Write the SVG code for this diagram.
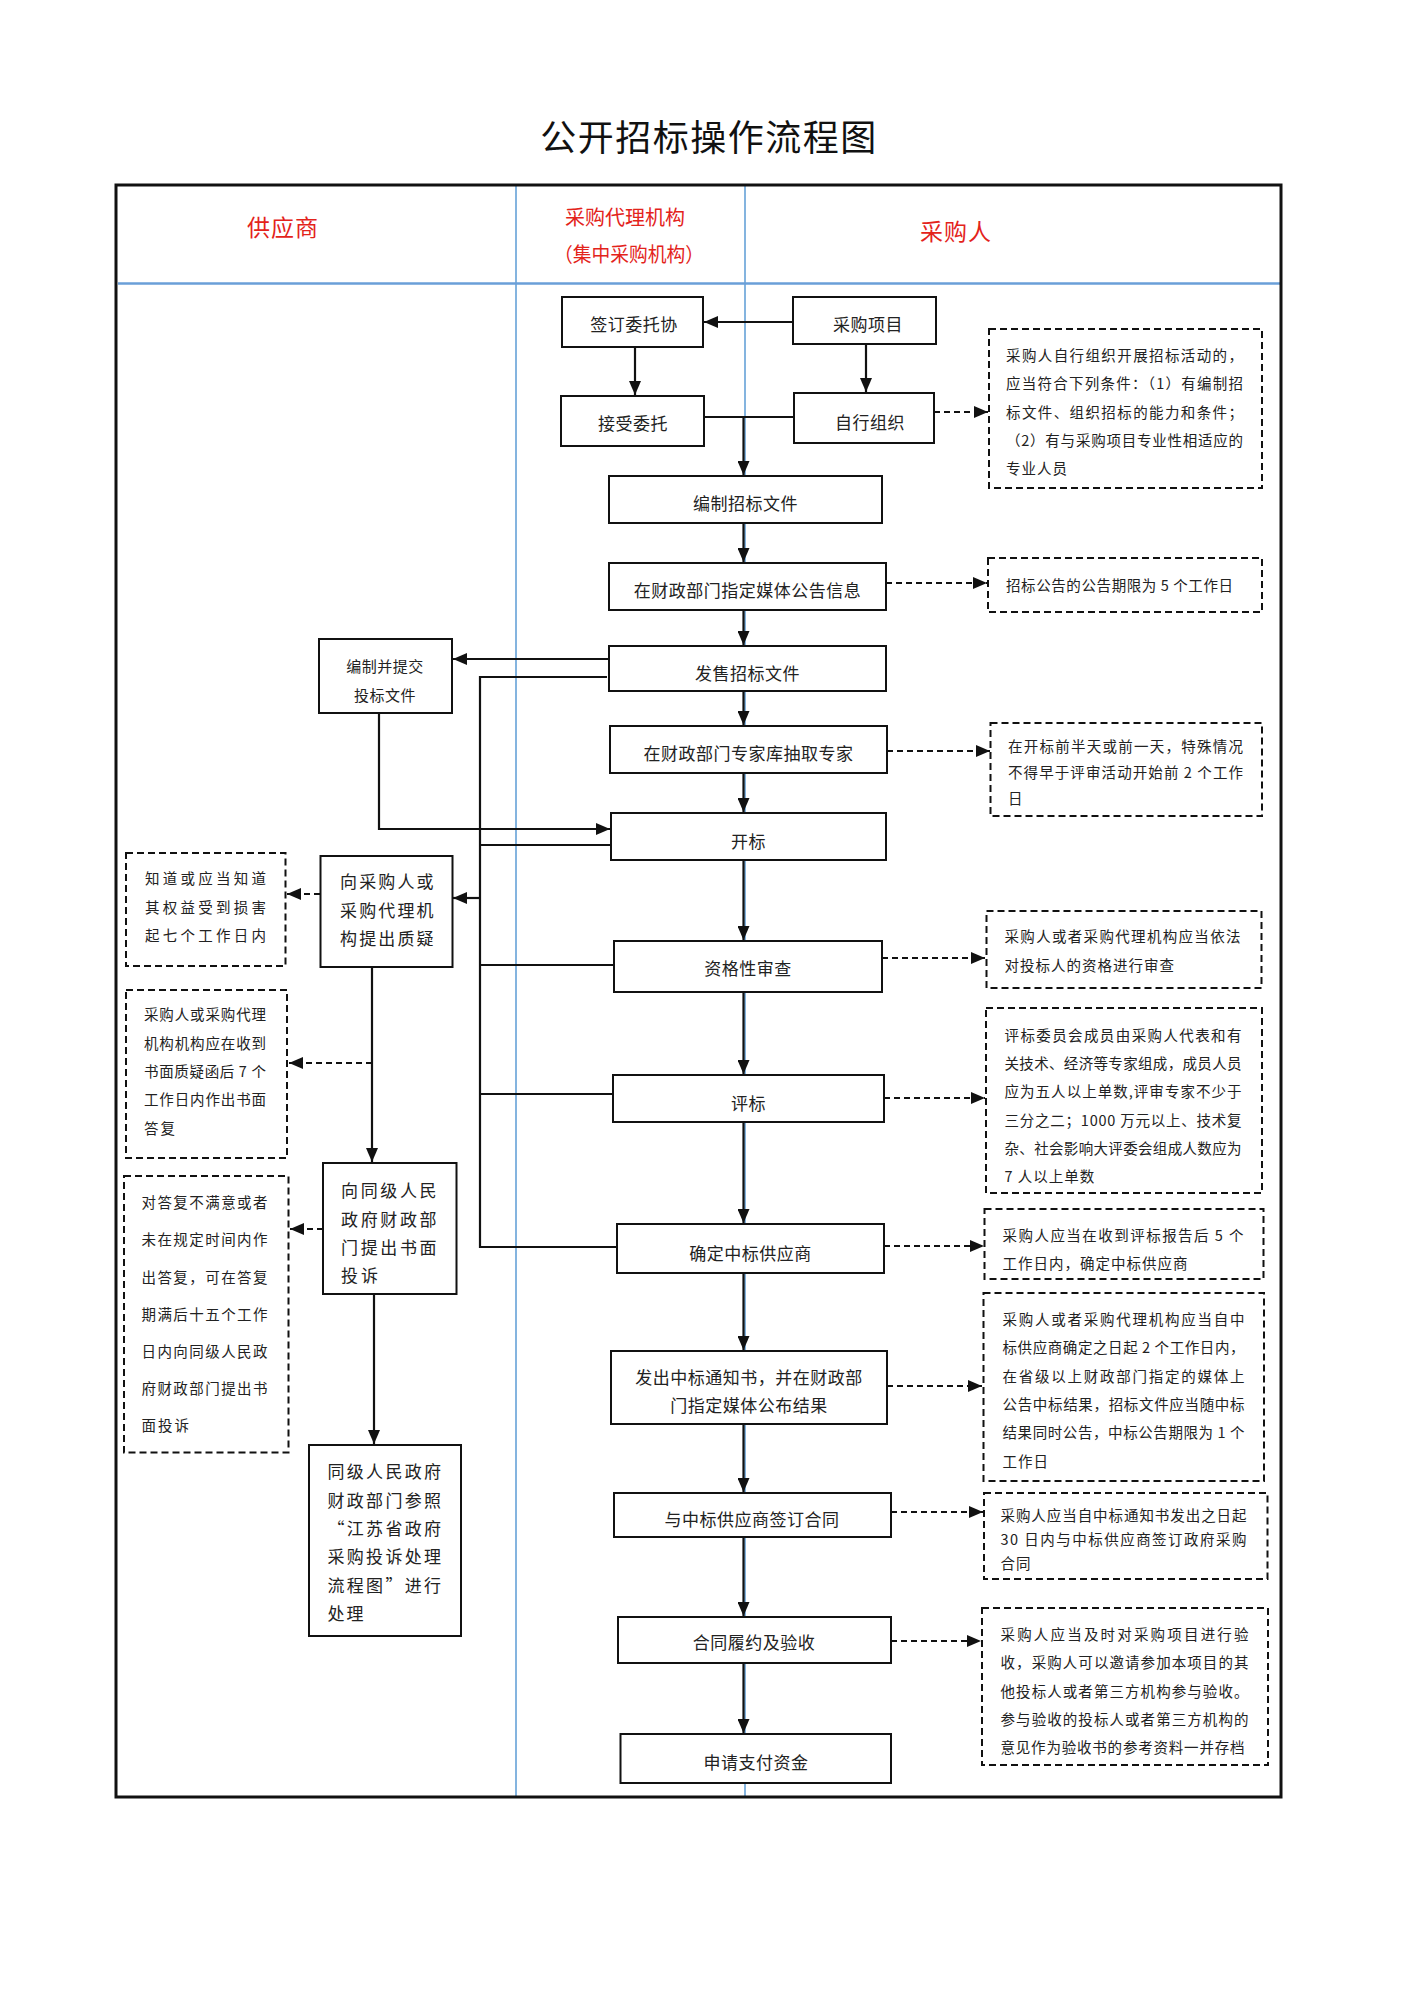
<svg xmlns="http://www.w3.org/2000/svg" width="1414" height="2000" viewBox="0 0 1414 2000">
<style>
.n{fill:#fff;stroke:#111;stroke-width:2}
.d{fill:#fff;stroke:#111;stroke-width:2;stroke-dasharray:7 4}
.t{font-family:"Noto Sans CJK SC","Noto Sans CJK JP",sans-serif;font-size:17px;fill:#222;letter-spacing:0.5px}
.m{text-anchor:middle}
.s{font-size:14.5px;letter-spacing:1px}
.h{font-family:"Noto Sans CJK SC",sans-serif;fill:#e3231b;text-anchor:middle}
.c{fill:none;stroke:#111;stroke-width:2.2}
.cd{fill:none;stroke:#111;stroke-width:2;stroke-dasharray:6 4}
.lane{stroke:#5b9bd5;stroke-width:1.5;fill:none}
</style>
<defs>
<marker id="ah" markerUnits="userSpaceOnUse" markerWidth="14" markerHeight="12" refX="14" refY="6" orient="auto">
<path d="M0,0 L14,6 L0,12 z" fill="#111"/>
</marker>
</defs>
<rect width="1414" height="2000" fill="#fff"/>

<g id="frame">
<text x="709" y="151" class="t m" style="font-size:36px;letter-spacing:1.5px;fill:#111">公开招标操作流程图</text>
<line class="lane" x1="516" y1="185" x2="516" y2="1797"/>
<line class="lane" x1="745" y1="185" x2="745" y2="1797"/>
<line x1="118" y1="283.5" x2="1280" y2="283.5" stroke="#6a9fd8" stroke-width="2.6"/>
<rect x="116" y="185" width="1165" height="1612" fill="none" stroke="#111" stroke-width="3"/>
<text x="283" y="236" class="h" style="font-size:23px;letter-spacing:1px">供应商</text>
<text x="625" y="225" class="h" style="font-size:20px">采购代理机构</text>
<text x="629" y="262" class="h" style="font-size:20px" textLength="150" lengthAdjust="spacingAndGlyphs">（集中采购机构）</text>
<text x="956" y="240" class="h" style="font-size:23px;letter-spacing:1px">采购人</text>
</g>

<g id="connectors">
<line class="c" x1="793" y1="322" x2="704" y2="322" marker-end="url(#ah)"/>
<line class="c" x1="635" y1="347" x2="635" y2="395" marker-end="url(#ah)"/>
<line class="c" x1="866" y1="344" x2="866" y2="392" marker-end="url(#ah)"/>
<line class="c" x1="704" y1="417" x2="794" y2="417"/>
<line class="c" x1="743.5" y1="417" x2="743.5" y2="475" marker-end="url(#ah)"/>
<line class="c" x1="743.5" y1="523" x2="743.5" y2="562" marker-end="url(#ah)"/>
<line class="c" x1="743.5" y1="610" x2="743.5" y2="645" marker-end="url(#ah)"/>
<line class="c" x1="743.5" y1="691" x2="743.5" y2="725" marker-end="url(#ah)"/>
<line class="c" x1="743.5" y1="773" x2="743.5" y2="812" marker-end="url(#ah)"/>
<line class="c" x1="743.5" y1="860" x2="743.5" y2="940" marker-end="url(#ah)"/>
<line class="c" x1="743.5" y1="992" x2="743.5" y2="1074" marker-end="url(#ah)"/>
<line class="c" x1="743.5" y1="1122" x2="743.5" y2="1223" marker-end="url(#ah)"/>
<line class="c" x1="743.5" y1="1273" x2="743.5" y2="1350" marker-end="url(#ah)"/>
<line class="c" x1="743.5" y1="1424" x2="743.5" y2="1492" marker-end="url(#ah)"/>
<line class="c" x1="743.5" y1="1537" x2="743.5" y2="1616" marker-end="url(#ah)"/>
<line class="c" x1="743.5" y1="1663" x2="743.5" y2="1733" marker-end="url(#ah)"/>
<line class="c" x1="609" y1="659" x2="453" y2="659" marker-end="url(#ah)"/>
<path class="c" d="M607,677 H480 V1247 H616"/>
<path class="c" d="M480,845 H611 M480,965 H614 M480,1094 H613"/>
<line class="c" x1="480" y1="898" x2="453" y2="898" marker-end="url(#ah)"/>
<path class="c" d="M379,713 V829 H610" marker-end="url(#ah)"/>
<line class="c" x1="372" y1="967" x2="372" y2="1162" marker-end="url(#ah)"/>
<line class="c" x1="374" y1="1294" x2="374" y2="1444" marker-end="url(#ah)"/>
<line class="cd" x1="934" y1="412" x2="988" y2="412" marker-end="url(#ah)"/>
<line class="cd" x1="886" y1="583" x2="987" y2="583" marker-end="url(#ah)"/>
<line class="cd" x1="887" y1="751" x2="990" y2="751" marker-end="url(#ah)"/>
<line class="cd" x1="882" y1="958" x2="985" y2="958" marker-end="url(#ah)"/>
<line class="cd" x1="884" y1="1098" x2="985" y2="1098" marker-end="url(#ah)"/>
<line class="cd" x1="884" y1="1246" x2="984" y2="1246" marker-end="url(#ah)"/>
<line class="cd" x1="887" y1="1386" x2="982" y2="1386" marker-end="url(#ah)"/>
<line class="cd" x1="891" y1="1512" x2="983" y2="1512" marker-end="url(#ah)"/>
<line class="cd" x1="891" y1="1641" x2="981" y2="1641" marker-end="url(#ah)"/>
<line class="cd" x1="320" y1="894" x2="287" y2="894" marker-end="url(#ah)"/>
<line class="cd" x1="372" y1="1063" x2="289" y2="1063" marker-end="url(#ah)"/>
<line class="cd" x1="323" y1="1229" x2="290" y2="1229" marker-end="url(#ah)"/>
</g>

<g id="n-qianding"><rect class="n" x="562" y="297" width="141" height="50"/><text class="t m" x="634" y="331">签订委托协</text></g>
<g id="n-jieshou"><rect class="n" x="561" y="396" width="143" height="50"/><text class="t m" x="633" y="429.5">接受委托</text></g>
<g id="n-xiangmu"><rect class="n" x="793" y="297" width="143" height="47"/><text class="t m" x="868" y="331">采购项目</text></g>
<g id="n-zixing"><rect class="n" x="794" y="393" width="140" height="50"/><text class="t m" x="870" y="428.5">自行组织</text></g>
<g id="n-bianzhi"><rect class="n" x="609" y="476" width="273" height="47"/><text class="t m" x="745.5" y="509.5">编制招标文件</text></g>
<g id="n-gonggao"><rect class="n" x="609" y="563" width="277" height="47"/><text class="t m" x="747.5" y="596.5">在财政部门指定媒体公告信息</text></g>
<g id="n-fashou"><rect class="n" x="609" y="646" width="277" height="45"/><text class="t m" x="747.5" y="679.5">发售招标文件</text></g>
<g id="n-chouqu"><rect class="n" x="610" y="726" width="277" height="47"/><text class="t m" x="748.5" y="759.5">在财政部门专家库抽取专家</text></g>
<g id="n-kaibiao"><rect class="n" x="611" y="813" width="275" height="47"/><text class="t m" x="748.5" y="848">开标</text></g>
<g id="n-zige"><rect class="n" x="614" y="941" width="268" height="51"/><text class="t m" x="748" y="974.5">资格性审查</text></g>
<g id="n-pingbiao"><rect class="n" x="613" y="1075" width="271" height="47"/><text class="t m" x="748.5" y="1109.5">评标</text></g>
<g id="n-queding"><rect class="n" x="617" y="1224" width="267" height="49"/><text class="t m" x="750.5" y="1259.5">确定中标供应商</text></g>
<g id="n-fachu"><rect class="n" x="611" y="1351" width="276" height="73"/><text class="t m" x="749" y="1384">发出中标通知书，并在财政部</text><text class="t m" x="749" y="1412">门指定媒体公布结果</text></g>
<g id="n-hetong"><rect class="n" x="614" y="1493" width="277" height="44"/><text class="t m" x="752" y="1526">与中标供应商签订合同</text></g>
<g id="n-lvyue"><rect class="n" x="618" y="1617" width="273" height="46"/><text class="t m" x="754" y="1649">合同履约及验收</text></g>
<g id="n-zhifu"><rect class="n" x="620.5" y="1734" width="270.5" height="49"/><text class="t m" x="756" y="1769">申请支付资金</text></g>

<g id="n-toubiao"><rect class="n" x="319" y="639" width="133" height="74"/><text class="t m" x="385" y="672" style="font-size:15px;letter-spacing:0.5px">编制并提交</text><text class="t m" x="385" y="700.5" style="font-size:15px;letter-spacing:0.5px">投标文件</text></g>
<g id="n-zhiyi"><rect class="n" x="320.5" y="856" width="132" height="111"/>
<text class="t" x="340" y="888" textLength="94" lengthAdjust="spacing">向采购人或</text>
<text class="t" x="340" y="917" textLength="94" lengthAdjust="spacing">采购代理机</text>
<text class="t" x="340" y="945" textLength="94" lengthAdjust="spacing">构提出质疑</text></g>
<g id="n-tousu"><rect class="n" x="323" y="1163" width="133.5" height="131"/>
<text class="t" x="341" y="1196.5" textLength="96" lengthAdjust="spacing">向同级人民</text>
<text class="t" x="341" y="1225.5" textLength="96" lengthAdjust="spacing">政府财政部</text>
<text class="t" x="341" y="1253.5" textLength="96" lengthAdjust="spacing">门提出书面</text>
<text class="t" x="341" y="1281.5" style="letter-spacing:3px">投诉</text></g>
<g id="n-chuli"><rect class="n" x="309" y="1445" width="152" height="191"/>
<text class="t" x="327.5" y="1478" textLength="114" lengthAdjust="spacing">同级人民政府</text>
<text class="t" x="327.5" y="1506.5" textLength="114" lengthAdjust="spacing">财政部门参照</text>
<text class="t" x="327.5" y="1535" textLength="114" lengthAdjust="spacing">“江苏省政府</text>
<text class="t" x="327.5" y="1563" textLength="114" lengthAdjust="spacing">采购投诉处理</text>
<text class="t" x="327.5" y="1591.5" textLength="114" lengthAdjust="spacing">流程图”进行</text>
<text class="t" x="327.5" y="1620" style="letter-spacing:2px">处理</text></g>

<g id="note-l1"><rect class="d" x="126" y="853" width="159.5" height="113"/>
<text class="t s" x="145" y="884" textLength="122" lengthAdjust="spacing">知道或应当知道</text>
<text class="t s" x="145" y="912.5" textLength="122" lengthAdjust="spacing">其权益受到损害</text>
<text class="t s" x="145" y="941" textLength="122" lengthAdjust="spacing">起七个工作日内</text></g>
<g id="note-l2"><rect class="d" x="126" y="990" width="161" height="168"/>
<text class="t s" x="144" y="1020" textLength="123" lengthAdjust="spacing">采购人或采购代理</text>
<text class="t s" x="144" y="1048.5" textLength="123" lengthAdjust="spacing">机构机构应在收到</text>
<text class="t s" x="144" y="1077" textLength="123" lengthAdjust="spacing">书面质疑函后 7 个</text>
<text class="t s" x="144" y="1105" textLength="123" lengthAdjust="spacing">工作日内作出书面</text>
<text class="t s" x="144" y="1133.5" style="letter-spacing:2px">答复</text></g>
<g id="note-l3"><rect class="d" x="124" y="1176" width="164.5" height="276.5"/>
<text class="t s" x="141.5" y="1208" textLength="127" lengthAdjust="spacing">对答复不满意或者</text>
<text class="t s" x="141.5" y="1245" textLength="127" lengthAdjust="spacing">未在规定时间内作</text>
<text class="t s" x="141.5" y="1282.5" textLength="127" lengthAdjust="spacing">出答复，可在答复</text>
<text class="t s" x="141.5" y="1319.5" textLength="127" lengthAdjust="spacing">期满后十五个工作</text>
<text class="t s" x="141.5" y="1356.5" textLength="127" lengthAdjust="spacing">日内向同级人民政</text>
<text class="t s" x="141.5" y="1393.5" textLength="127" lengthAdjust="spacing">府财政部门提出书</text>
<text class="t s" x="141.5" y="1431" style="letter-spacing:2px">面投诉</text></g>

<g id="note-r1"><rect class="d" x="989" y="329" width="273" height="159"/>
<text class="t s" x="1006" y="360.5" textLength="238" lengthAdjust="spacing">采购人自行组织开展招标活动的，</text>
<text class="t s" x="1006" y="388.5" textLength="238" lengthAdjust="spacing">应当符合下列条件：（1）有编制招</text>
<text class="t s" x="1006" y="417.5" textLength="238" lengthAdjust="spacing">标文件、组织招标的能力和条件；</text>
<text class="t s" x="1006" y="445.5" textLength="238" lengthAdjust="spacing">（2）有与采购项目专业性相适应的</text>
<text class="t s" x="1006" y="473.5">专业人员</text></g>
<g id="note-r2"><rect class="d" x="988" y="558" width="274" height="54"/>
<text class="t s" x="1006" y="590.5" textLength="228" lengthAdjust="spacing">招标公告的公告期限为 5 个工作日</text></g>
<g id="note-r3"><rect class="d" x="990.5" y="723" width="271.5" height="93"/>
<text class="t s" x="1008" y="752" textLength="236" lengthAdjust="spacing">在开标前半天或前一天，特殊情况</text>
<text class="t s" x="1008" y="778" textLength="236" lengthAdjust="spacing">不得早于评审活动开始前 2 个工作</text>
<text class="t s" x="1008" y="804">日</text></g>
<g id="note-r4"><rect class="d" x="986.5" y="911" width="275" height="77"/>
<text class="t s" x="1004.5" y="942" textLength="237" lengthAdjust="spacing">采购人或者采购代理机构应当依法</text>
<text class="t s" x="1004.5" y="970.5">对投标人的资格进行审查</text></g>
<g id="note-r5"><rect class="d" x="986" y="1008" width="276" height="185"/>
<text class="t s" x="1004.5" y="1040.5" textLength="238" lengthAdjust="spacing">评标委员会成员由采购人代表和有</text>
<text class="t s" x="1004.5" y="1069" textLength="238" lengthAdjust="spacing">关技术、经济等专家组成，成员人员</text>
<text class="t s" x="1004.5" y="1097" textLength="238" lengthAdjust="spacing">应为五人以上单数,评审专家不少于</text>
<text class="t s" x="1004.5" y="1125.5" textLength="238" lengthAdjust="spacing">三分之二；1000 万元以上、技术复</text>
<text class="t s" x="1004.5" y="1154" textLength="238" lengthAdjust="spacing">杂、社会影响大评委会组成人数应为</text>
<text class="t s" x="1004.5" y="1182">7 人以上单数</text></g>
<g id="note-r6"><rect class="d" x="984.5" y="1209" width="279" height="70"/>
<text class="t s" x="1002.5" y="1240.5" textLength="242" lengthAdjust="spacing">采购人应当在收到评标报告后 5 个</text>
<text class="t s" x="1002.5" y="1269">工作日内，确定中标供应商</text></g>
<g id="note-r7"><rect class="d" x="983.5" y="1293" width="280.5" height="188"/>
<text class="t s" x="1002.5" y="1325" textLength="243" lengthAdjust="spacing">采购人或者采购代理机构应当自中</text>
<text class="t s" x="1002.5" y="1353" textLength="243" lengthAdjust="spacing">标供应商确定之日起 2 个工作日内，</text>
<text class="t s" x="1002.5" y="1381.5" textLength="243" lengthAdjust="spacing">在省级以上财政部门指定的媒体上</text>
<text class="t s" x="1002.5" y="1410" textLength="243" lengthAdjust="spacing">公告中标结果，招标文件应当随中标</text>
<text class="t s" x="1002.5" y="1438" textLength="243" lengthAdjust="spacing">结果同时公告，中标公告期限为 1 个</text>
<text class="t s" x="1002.5" y="1466.5">工作日</text></g>
<g id="note-r8"><rect class="d" x="984" y="1493" width="283.5" height="86"/>
<text class="t s" x="1000.5" y="1520.5" textLength="247" lengthAdjust="spacing">采购人应当自中标通知书发出之日起</text>
<text class="t s" x="1000.5" y="1545" textLength="247" lengthAdjust="spacing">30 日内与中标供应商签订政府采购</text>
<text class="t s" x="1000.5" y="1569">合同</text></g>
<g id="note-r9"><rect class="d" x="982" y="1608" width="286" height="157"/>
<text class="t s" x="1000.5" y="1640" textLength="249" lengthAdjust="spacing">采购人应当及时对采购项目进行验</text>
<text class="t s" x="1000.5" y="1668" textLength="249" lengthAdjust="spacing">收，采购人可以邀请参加本项目的其</text>
<text class="t s" x="1000.5" y="1696.5" textLength="249" lengthAdjust="spacing">他投标人或者第三方机构参与验收。</text>
<text class="t s" x="1000.5" y="1725" textLength="249" lengthAdjust="spacing">参与验收的投标人或者第三方机构的</text>
<text class="t s" x="1000.5" y="1753" textLength="245" lengthAdjust="spacing">意见作为验收书的参考资料一并存档</text></g>
</svg>
